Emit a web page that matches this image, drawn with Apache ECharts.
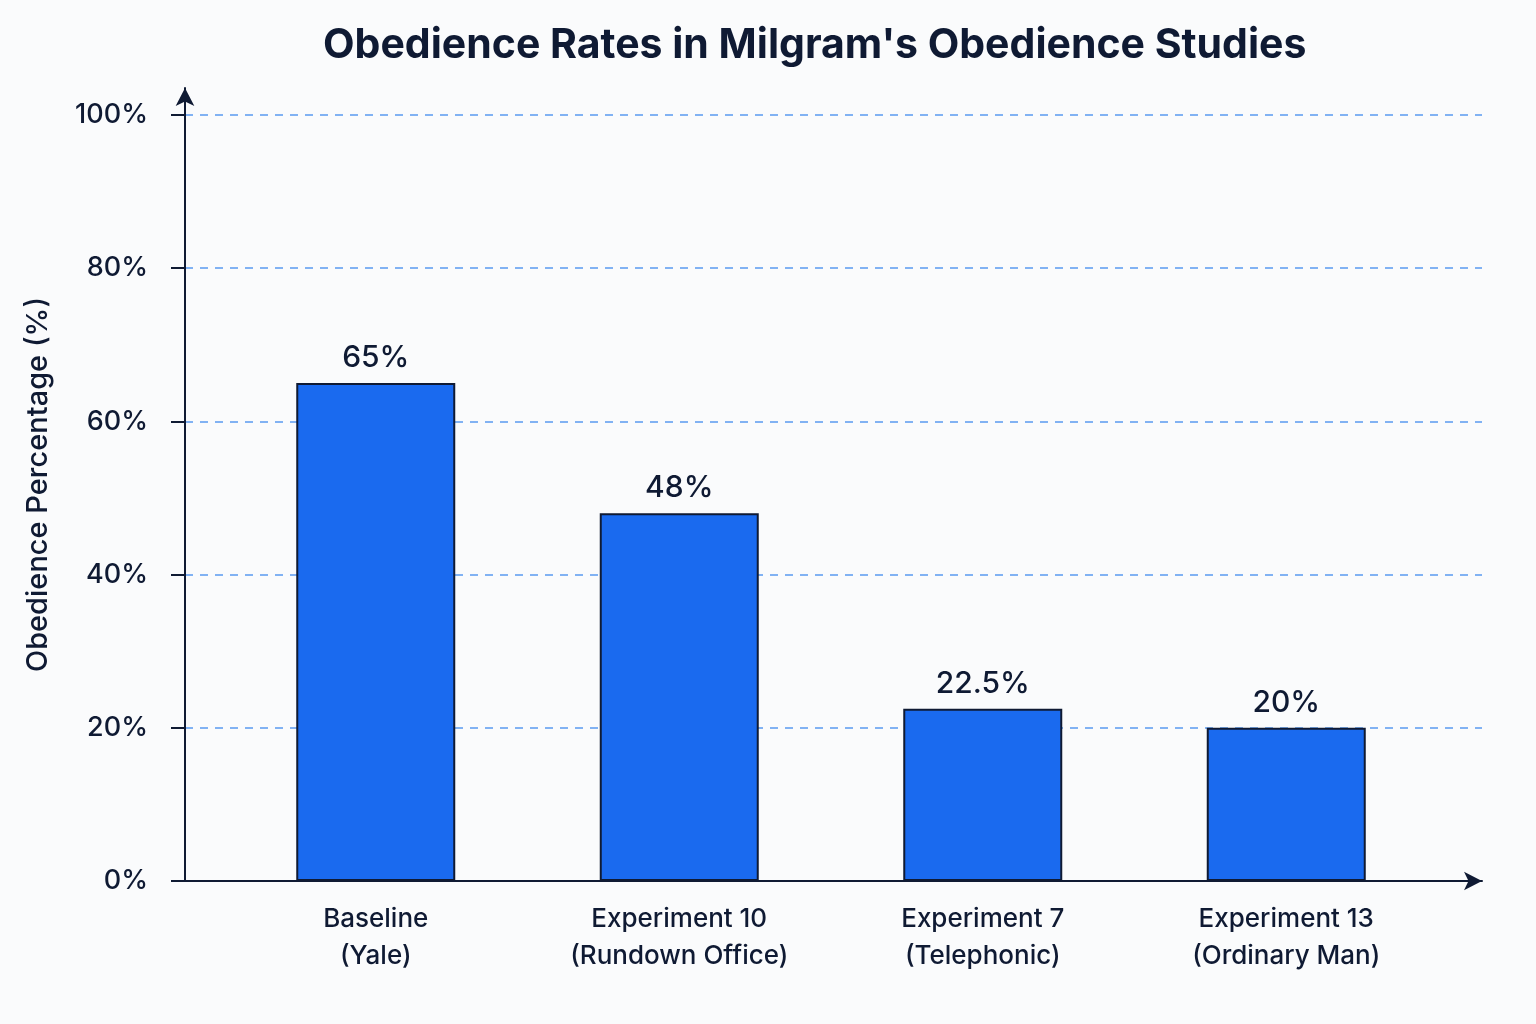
<!DOCTYPE html>
<html lang="en">
  <head>
    <meta charset="UTF-8" />
    <title>Milgram Obedience Rates</title>
    <script src="https://cdn.jsdelivr.net/npm/echarts@6/dist/echarts.min.js"></script>
    <style>
      body { margin: 0; background: #fafbfc; }
    </style>
  </head>

  <body>
    <div id="main" style="width: 1536px; height: 1024px"></div>
    <script type="text/javascript">
      // chart data
      const categories = [
        "Baseline\n(Yale)",
        "Experiment 10\n(Rundown Office)",
        "Experiment 7\n(Telephonic)",
        "Experiment 13\n(Ordinary Man)",
      ];
      const obedience = [65, 48, 22.5, 20];
      const yTicks = [0, 20, 40, 60, 80, 100];

      const ink = "#0f1a33";
      const font = "Inter";

      let myChart = echarts.init(document.getElementById("main"));

      let options = {
        backgroundColor: "#fafbfc",
        textStyle: { fontFamily: font, color: ink },
        title: {
          text: "Obedience Rates in Milgram's Obedience Studies",
          left: 318,
          top: 20,
          textStyle: { fontFamily: font, fontSize: 41, fontWeight: "bold", color: ink },
        },
        grid: [
          // 0: y axis line with arrow (reaches above 100%)
          { left: 185, right: 54, top: 88, bottom: 143 },
          // 1: y labels, ticks, dashed grid lines, x axis line
          { left: 185, right: 54, top: 115, bottom: 143 },
          // 2: bars and category labels
          { left: 224, right: 98, top: 115, bottom: 143 },
        ],
        xAxis: [
          { gridIndex: 0, type: "value", min: 0, max: 1, show: false },
          {
            gridIndex: 1,
            type: "value",
            min: 0,
            max: 1,
            axisLine: {
              show: true,
              symbol: ["none", "arrow"],
              symbolSize: [14, 18],
              lineStyle: { color: ink, width: 2 },
            },
            axisTick: { show: false },
            axisLabel: { show: false },
            splitLine: { show: false },
          },
          {
            gridIndex: 2,
            type: "category",
            data: categories,
            axisLine: { show: false },
            axisTick: { show: false },
            axisLabel: {
              margin: 20,
              fontSize: 26,
              fontWeight: 500,
              lineHeight: 37,
              color: ink,
              fontFamily: font,
            },
          },
        ],
        yAxis: [
          {
            gridIndex: 0,
            type: "value",
            min: 0,
            max: 1,
            name: "Obedience Percentage (%)",
            nameLocation: "middle",
            nameGap: 132,
            nameTextStyle: { fontSize: 29, fontWeight: 500, color: ink, fontFamily: font },
            axisLine: {
              show: true,
              symbol: ["none", "arrow"],
              symbolSize: [14, 18],
              lineStyle: { color: ink, width: 2 },
            },
            axisTick: { show: false },
            axisLabel: { show: false },
            splitLine: { show: false },
          },
          {
            gridIndex: 1,
            type: "value",
            min: yTicks[0],
            max: yTicks[yTicks.length - 1],
            interval: yTicks[1] - yTicks[0],
            axisLine: { show: false },
            axisTick: {
              show: true,
              length: 14,
              lineStyle: { color: ink, width: 2 },
            },
            axisLabel: {
              formatter: "{value}%",
              margin: 37,
              fontSize: 27,
              fontWeight: 500,
              color: ink,
              fontFamily: font,
            },
            splitLine: {
              show: true,
              lineStyle: { color: "#5a9bef", type: [8, 7], width: 1.5 },
            },
          },
          { gridIndex: 2, type: "value", min: 0, max: 100, show: false },
        ],
        series: [
          {
            name: "Obedience",
            type: "bar",
            xAxisIndex: 2,
            yAxisIndex: 2,
            data: obedience,
            barWidth: 159,
            itemStyle: { color: "#1a6aef", borderColor: ink, borderWidth: 2 },
            label: {
              show: true,
              position: "top",
              distance: 10,
              formatter: "{c}%",
              fontSize: 30,
              fontWeight: 500,
              color: ink,
              fontFamily: font,
            },
          },
        ],
      };

      myChart.setOption(options);
    </script>
  </body>
</html>
